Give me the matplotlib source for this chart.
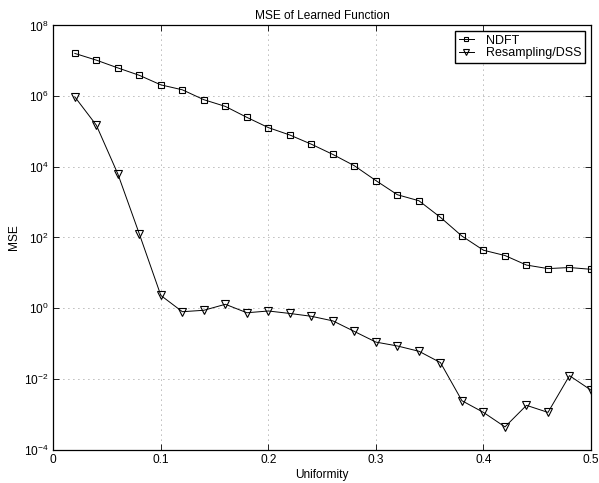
import numpy as np
import matplotlib
matplotlib.use('Agg')
import matplotlib.pyplot as plt
import matplotlib.ticker as mticker

plt.rcParams['font.family'] = ['Liberation Sans', 'DejaVu Sans']
plt.rcParams['mathtext.fontset'] = 'custom'
plt.rcParams['mathtext.rm'] = 'Liberation Sans'

uniformity = [0.02, 0.04, 0.06, 0.08, 0.10, 0.12, 0.14, 0.16, 0.18, 0.20,
              0.22, 0.24, 0.26, 0.28, 0.30, 0.32, 0.34, 0.36, 0.38, 0.40,
              0.42, 0.44, 0.46, 0.48, 0.50]

# log10 of MSE
ndft_log = [7.21, 7.02, 6.80, 6.59, 6.32, 6.18, 5.90, 5.71, 5.40, 5.11,
            4.90, 4.64, 4.35, 4.03, 3.61, 3.21, 3.04, 2.57, 2.04, 1.64,
            1.49, 1.22, 1.12, 1.15, 1.10]
dss_log = [5.98, 5.18, 3.80, 2.10, 0.36, -0.10, -0.06, 0.11, -0.13, -0.08,
           -0.15, -0.23, -0.36, -0.66, -0.96, -1.07, -1.22, -1.54, -2.62, -2.95,
           -3.36, -2.75, -2.95, -1.91, -2.32]

ndft = 10 ** np.array(ndft_log)
dss = 10 ** np.array(dss_log)

fs = 8.6

fig = plt.figure(figsize=(5.99, 4.83), dpi=100)
ax = fig.add_axes([53.3 / 599, 1 - 449.5 / 483, (591 - 53.3) / 599, (449.5 - 25.5) / 483])

ax.plot(uniformity, ndft, 'k-s', lw=0.7, ms=4.5, mfc='none', mew=0.8, label='NDFT')
ax.plot(uniformity, dss, 'k-v', lw=0.7, ms=5.5, mfc='none', mew=0.8, label='Resampling/DSS')

ax.set_yscale('log')
ax.set_xlim(0, 0.5)
ax.set_ylim(1e-4, 1e8)
ax.set_xticks([0, 0.1, 0.2, 0.3, 0.4, 0.5])
ax.xaxis.set_major_formatter(mticker.FuncFormatter(lambda v, p: '{:g}'.format(v)))
ax.set_yticks([10.0 ** k for k in range(-4, 9, 2)])
ax.yaxis.set_minor_locator(mticker.NullLocator())

ax.grid(True, which='major', ls=(0, (1, 5)), color='k', lw=0.6, alpha=0.55)
ax.tick_params(direction='in', top=True, right=True, labelsize=fs, length=4, width=0.6)
for s in ax.spines.values():
    s.set_linewidth(0.9)

ax.set_xlabel('Uniformity', fontsize=fs, labelpad=2)
ax.set_ylabel('MSE', fontsize=fs, labelpad=3)
ax.set_title('MSE of Learned Function', fontsize=fs, pad=5)

leg = ax.legend(loc='upper right', fontsize=9, fancybox=False, framealpha=1,
                edgecolor='k', handlelength=1.2, borderaxespad=0.45,
                borderpad=0.3, labelspacing=0.05, handletextpad=1.0,
                markerscale=0.75)
leg.get_frame().set_linewidth(1.0)

plt.savefig('out.png', dpi=100)
